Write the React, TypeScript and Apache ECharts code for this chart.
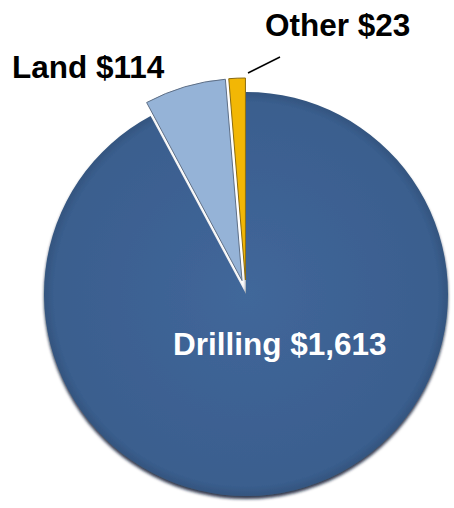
import React, { useEffect, useRef } from "react";
import * as echarts from "echarts";

const categories = ["Drilling", "Land", "Other"];
const values = [1613, 114, 23];
const colors = ["#3d6293", "#95b3d7", "#f2b705"];
const labelColors = ["#ffffff", "#000000", "#000000"];

const fmt = (v: number) => "$" + v.toLocaleString("en-US");

export default function App() {
  const ref = useRef<HTMLDivElement>(null);
  useEffect(() => {
    document.body.style.margin = "0";
    const chart = echarts.init(ref.current!, null, { renderer: "svg" });
    const labelPos = [
      { x: 173, y: 344 },
      { x: 12, y: 67 },
      { x: 265, y: 25 },
    ];
    chart.setOption({
      animation: false,
      backgroundColor: "#ffffff",
      graphic: [
        {
          type: "line",
          shape: { x1: 248, y1: 73, x2: 280, y2: 57 },
          style: { stroke: "#000", lineWidth: 1.5 },
          z: 10,
        },
        ...categories.map((name, i) => ({
          type: "text",
          x: labelPos[i].x,
          y: labelPos[i].y,
          z: 20,
          style: {
            text: name + " " + fmt(values[i]),
            fill: labelColors[i],
            font: "bold 31.5px 'Liberation Sans', Arial, sans-serif",
            textAlign: "left",
            textVerticalAlign: "middle",
          },
        })),
      ],
      series: [
        {
          type: "pie",
          center: [246, 294],
          radius: [0, 202],
          startAngle: 90,
          clockwise: true,
          selectedMode: "multiple",
          selectedOffset: 14,
          emphasis: { disabled: true },
          labelLine: { show: false },
          label: { show: false },
          data: categories.map((name, i) => ({
            name,
            value: values[i],
            selected: i > 0,
            itemStyle:
              i === 0
                ? {
                    color: {
                      type: "radial",
                      x: 0.5,
                      y: 0.5,
                      r: 0.5,
                      colorStops: [
                        { offset: 0, color: "#41679a" },
                        { offset: 0.95, color: "#3a5e8e" },
                        { offset: 1, color: "#34557f" },
                      ],
                    },
                    shadowColor: "rgba(10,25,50,0.85)",
                    shadowBlur: 3,
                    shadowOffsetY: 3,
                  }
                : {
                    color: colors[i],
                    borderColor: i === 1 ? "#5e6f86" : "#8a6a10",
                    borderWidth: 1,
                  },
          })),
        },
      ],
    });
    return () => chart.dispose();
  }, []);
  return <div ref={ref} style={{ width: 454, height: 508 }} />;
}
